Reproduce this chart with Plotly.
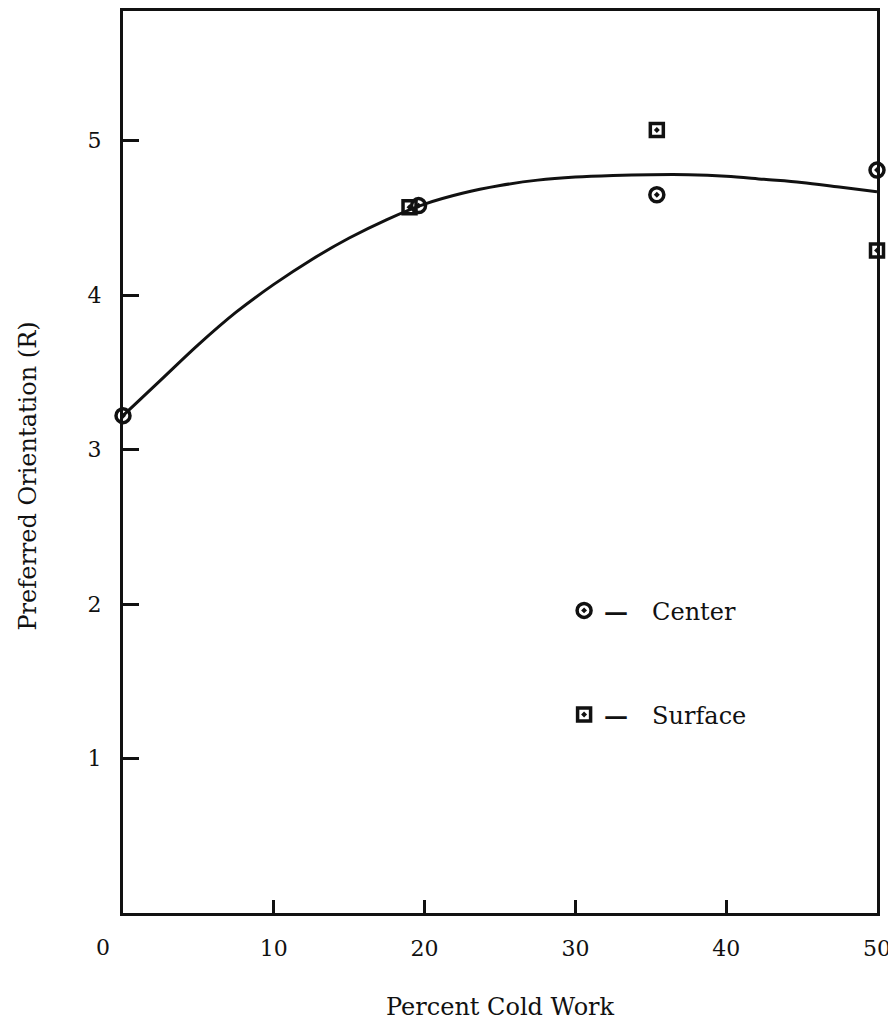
import plotly.graph_objects as go

# Fitted curve
curve_x = [0, 2.5, 5, 7.5, 10, 12.5, 15, 17.5, 20, 22.5, 25, 27.5, 30, 32.5, 35, 37.5, 40, 42.5, 45, 47.5, 50]
curve_y = [3.22, 3.45, 3.68, 3.89, 4.07, 4.23, 4.37, 4.49, 4.59, 4.66, 4.71, 4.745, 4.765, 4.775, 4.78, 4.78, 4.77, 4.75, 4.73, 4.70, 4.67]

# Data points
center_x = [0, 19.6, 35.4, 50]
center_y = [3.22, 4.58, 4.65, 4.81]
surface_x = [19.0, 35.4, 50]
surface_y = [4.57, 5.07, 4.29]

x_ticks = [10, 20, 30, 40, 50]
y_ticks = [1, 2, 3, 4, 5]
origin_label = "0"

FONT = "DejaVu Serif"
INK = "#111111"

fig = go.Figure()
fig.add_trace(go.Scatter(x=curve_x, y=curve_y, mode="lines",
                         line=dict(color=INK, width=3, shape="spline", smoothing=1.0),
                         showlegend=False, hoverinfo="skip"))
fig.add_trace(go.Scatter(x=center_x, y=center_y, mode="markers", name="<b>—</b>\u2003Center",
                         legendgroup="c",
                         marker=dict(symbol="circle-open-dot", size=14, color=INK, line=dict(width=3.5)),
                         cliponaxis=False))
fig.add_trace(go.Scatter(x=surface_x, y=surface_y, mode="markers", name="<b>—</b>\u2003Surface",
                         legendgroup="s",
                         marker=dict(symbol="square-open-dot", size=13, color=INK, line=dict(width=3.5)),
                         cliponaxis=False))

# The page body has an 8px margin, so the figure is sized to fit the window exactly
fig.update_layout(
    width=888, height=1017,
    margin=dict(l=115, r=19, t=0, b=112),
    paper_bgcolor="white", plot_bgcolor="white",
    font=dict(family=FONT, size=22, color=INK),
    showlegend=True,
    legend=dict(x=0.585, y=0.36, xanchor="left", yanchor="top",
                bgcolor="rgba(0,0,0,0)", font=dict(size=24, family=FONT, color=INK),
                tracegroupgap=70, traceorder="grouped"),
    xaxis=dict(range=[0, 50], tickvals=x_ticks, ticktext=[str(v) for v in x_ticks],
               ticks="inside", ticklen=13, tickwidth=3, tickcolor=INK,
               showline=True, linewidth=3, linecolor=INK, mirror=True,
               showgrid=False, zeroline=False, ticklabelstandoff=14,
               tickfont=dict(size=22, family=FONT, color=INK)),
    yaxis=dict(range=[0, 5.84], tickvals=y_ticks, ticktext=[str(v) for v in y_ticks],
               ticks="inside", ticklen=16, tickwidth=3, tickcolor=INK,
               showline=True, linewidth=3, linecolor=INK, mirror=True,
               showgrid=False, zeroline=False, ticklabelstandoff=14,
               tickfont=dict(size=22, family=FONT, color=INK)),
    annotations=[
        dict(text="Percent Cold Work", xref="paper", yref="paper", x=0.5, y=-0.104,
             xanchor="center", yanchor="middle", showarrow=False,
             font=dict(size=24, family=FONT, color=INK)),
        dict(text="Preferred Orientation (R)", xref="paper", yref="paper", x=-0.126, y=0.485,
             xanchor="center", yanchor="middle", textangle=-90, showarrow=False,
             font=dict(size=24, family=FONT, color=INK)),
        dict(text=origin_label, xref="x", yref="paper", x=0, y=-0.038, xshift=-20,
             xanchor="center", yanchor="middle", showarrow=False,
             font=dict(size=22, family=FONT, color=INK)),
    ],
)

fig.write_html("out.html")
